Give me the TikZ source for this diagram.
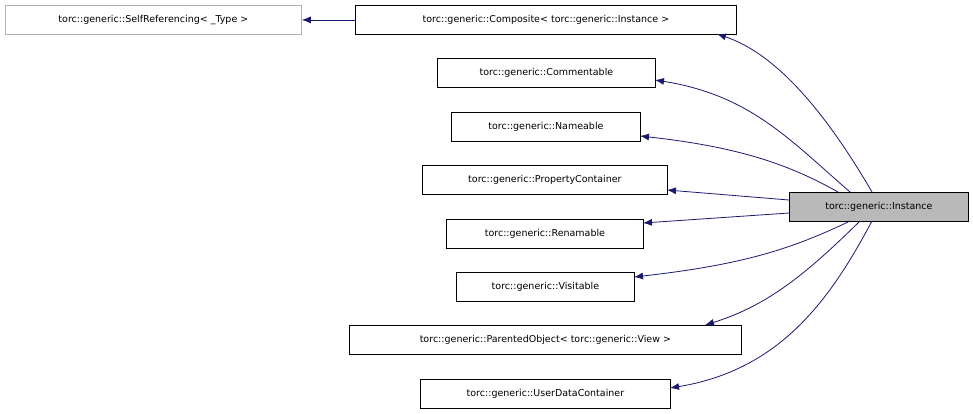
\documentclass[tikz,border=0pt]{standalone}
\usepackage{fontspec}
\setmainfont{DejaVu Sans}
\begin{document}
\begin{tikzpicture}[x=1pt,y=-1pt,
  box/.style={draw=black,line width=0.8pt,minimum height=29pt,inner sep=0pt,font=\fontsize{9.5}{11}\selectfont,anchor=north west},
  e/.style={draw=midnight,line width=0.8pt,-{Latex[length=9pt,width=7pt]}}]
\definecolor{midnight}{HTML}{191970}
\usetikzlibrary{arrows.meta}
\useasboundingbox (0,0) rectangle (973,413);
\node[box,draw=gray!60,minimum width=296pt] (sr) at (5,5) {torc::generic::SelfReferencing{<} \_Type {>}};
\node[box,minimum width=381pt] (co) at (355,5) {torc::generic::Composite{<} torc::generic::Instance {>}};
\node[box,minimum width=218pt] (cm) at (437,58) {torc::generic::Commentable};
\node[box,minimum width=189pt] (nm) at (451,112) {torc::generic::Nameable};
\node[box,minimum width=245pt] (pc) at (422,165) {torc::generic::PropertyContainer};
\node[box,minimum width=197pt] (rn) at (446,219) {torc::generic::Renamable};
\node[box,minimum width=178pt] (vi) at (456,272) {torc::generic::Visitable};
\node[box,minimum width=392pt] (po) at (349,325) {torc::generic::ParentedObject{<} torc::generic::View {>}};
\node[box,minimum width=250pt] (ud) at (420,379) {torc::generic::UserDataContainer};
\node[box,fill=gray!55,minimum width=179pt] (in) at (789,192) {torc::generic::Instance};
\coordinate (a1) at (872,192); \coordinate (a2) at (850,192); \coordinate (a3) at (838,192);
\coordinate (a4) at (789,200); \coordinate (a5) at (789,213);
\coordinate (a6) at (850,221); \coordinate (a7) at (860,221); \coordinate (a8) at (872,221);
\draw[e] (co.west) -- (sr.east);
\draw[e] (a1) .. controls (830,120) and (780,55) .. (717,34);
\draw[e] (a2) .. controls (790,140) and (750,95) .. (655,80);
\draw[e] (a3) .. controls (790,165) and (740,147) .. (640,136);
\draw[e] (a4) -- (667,190);
\draw[e] (a5) -- (643,223);
\draw[e] (a6) .. controls (790,250) and (740,265) .. (634,277);
\draw[e] (a7) .. controls (810,270) and (770,305) .. (705,325);
\draw[e] (a8) .. controls (830,300) and (780,370) .. (670,388);
\end{tikzpicture}
\end{document}
